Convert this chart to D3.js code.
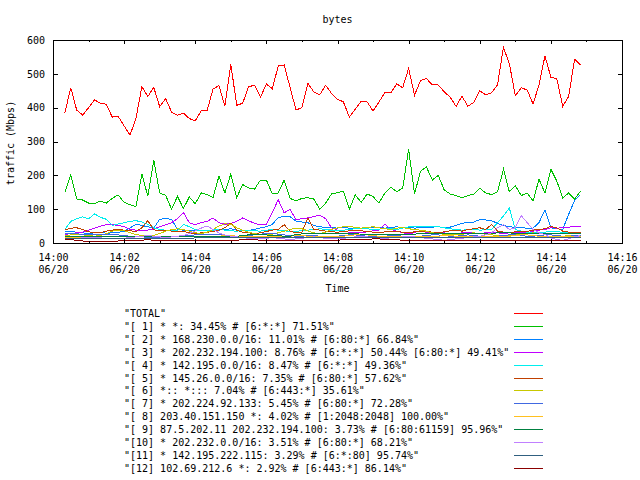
<!DOCTYPE html>
<html>
<head>
<meta charset="utf-8">
<script src="https://cdn.jsdelivr.net/npm/d3@7"></script>
<style>
    body { margin: 0; background: #fff; }
    text { font-family: "DejaVu Sans Mono", "Liberation Mono", monospace; font-size: 10px; fill: #000; }
    .axis path { display: none; }
    .axis line { stroke: #000; shape-rendering: crispEdges; }
    .series { fill: none; stroke-width: 1; shape-rendering: crispEdges; }
</style>
</head>
<body>
<div id="chart"></div>
<script>
// samples every 10 s, first one at 14:00:20
const startTime = [14, 0, 20];
const stepSeconds = 10;

const total = [385,459,393,378,400,423,413,410,372,374,
    346,319,369,462,433,460,403,427,387,378,
    384,368,361,391,391,455,465,405,528,407,
    413,462,466,431,470,456,523,526,460,393,
    400,472,447,438,466,442,425,417,372,396,
    419,417,390,417,445,444,470,459,516,437,
    480,486,467,467,447,431,404,434,404,416,
    450,438,444,468,578,530,435,459,452,411,
    467,553,490,486,404,433,543,526];

const s1 = [150,201,130,127,118,116,124,118,132,142,
    120,113,108,204,138,245,148,141,100,138,
    102,136,116,148,143,134,198,148,204,134,
    173,163,159,186,186,145,148,186,132,124,
    132,134,130,100,118,145,149,153,100,142,
    120,145,137,118,148,165,152,162,277,145,
    212,225,186,200,157,145,140,134,140,145,
    162,148,143,151,218,151,169,140,148,124,
    189,148,218,183,133,148,130,153];

const s2 = [33,34,32,30,28,30,31,29,30,32,
    34,45,55,52,48,44,70,72,70,40,
    38,37,38,36,36,37,38,40,42,38,
    36,37,40,45,48,55,75,79,78,65,
    62,60,52,48,46,45,44,46,44,42,
    44,46,45,47,44,46,48,45,46,44,
    45,46,47,48,46,47,52,58,62,62,
    69,68,66,58,52,48,46,45,44,44,
    60,98,45,42,40,85,125,143];

const s3 = [25,28,30,32,38,44,50,54,54,52,
    48,40,38,36,38,42,48,54,60,72,
    90,60,54,60,64,74,60,55,58,64,
    74,66,58,54,56,90,128,89,100,68,
    72,74,78,82,72,45,38,35,32,30,
    30,33,36,38,56,40,35,30,28,30,
    28,30,32,28,30,26,28,30,32,30,
    28,30,32,30,28,30,32,30,30,35,
    38,40,45,44,45,47,48,48];

const s4 = [40,64,72,77,71,86,76,70,52,56,
    60,64,66,62,55,45,40,38,37,36,
    55,48,39,37,36,38,40,38,36,35,
    37,38,36,35,38,40,38,36,34,35,
    36,38,40,42,40,38,36,38,40,42,
    44,42,40,41,43,42,40,44,48,50,
    50,49,49,48,45,42,40,38,39,40,
    38,39,40,60,80,103,40,35,32,30,
    30,32,34,33,32,30,32,30];

const s5 = [38,44,45,40,33,30,30,35,38,40,
    38,36,34,45,66,39,36,38,35,33,
    35,30,28,30,32,34,38,45,59,38,
    32,30,28,30,34,38,40,54,35,30,
    32,74,40,38,35,33,32,34,36,38,
    36,34,32,30,33,35,34,32,30,33,
    35,34,32,30,33,36,38,35,40,42,
    45,40,55,35,32,30,33,35,34,38,
    40,42,49,45,35,32,30,30];

const s6 = [22,24,25,24,22,20,22,28,35,38,
    36,30,25,22,20,22,28,35,40,42,
    40,35,30,28,32,40,50,57,55,45,
    38,32,28,25,24,26,30,35,40,44,
    42,36,30,28,32,40,45,48,50,46,
    44,46,48,45,42,40,44,46,42,40,
    38,35,30,28,26,25,24,26,28,30,
    28,26,24,22,20,22,24,26,28,30,
    28,26,24,22,20,22,20,18];

const s7 = [28,28,27,26,26,25,25,24,24,24,
    22,20,18,18,17,17,16,16,18,20,
    22,22,24,24,24,25,25,22,20,20,
    20,22,24,26,28,28,26,24,22,20,
    20,22,22,20,18,18,20,22,24,24,
    22,20,18,18,20,22,22,20,18,18,
    20,22,24,24,22,20,20,22,24,22,
    20,18,18,20,22,24,24,22,20,20,
    22,24,24,22,20,20,22,22];

const s8 = [15,15,16,16,17,18,18,18,18,18,
    18,18,18,19,19,19,19,18,18,18,
    18,18,18,17,17,18,20,22,22,20,
    18,18,18,18,18,18,18,18,20,22,
    22,20,18,18,18,18,18,20,22,24,
    26,24,22,20,18,18,18,18,18,18,
    18,18,18,20,22,22,20,18,18,18,
    18,18,18,18,18,20,22,24,24,22,
    20,20,18,18,18,18,18,18];

const s9 = [20,20,20,19,19,18,18,18,18,18,
    18,18,18,18,18,18,18,18,18,18,
    18,18,18,18,18,18,18,18,18,20,
    22,24,24,24,24,22,22,20,20,25,
    27,28,28,28,28,28,28,28,28,28,
    26,26,26,26,26,26,26,26,26,26,
    28,28,28,28,28,28,28,28,28,28,
    28,28,28,30,30,30,28,28,28,28,
    28,28,28,28,28,28,28,28];

const s10 = [10,12,14,15,16,16,15,14,12,12,
    14,16,18,20,22,20,18,16,18,20,
    22,28,36,44,50,40,30,24,20,18,
    16,14,12,12,14,16,14,12,10,12,
    14,16,18,16,14,12,12,14,16,18,
    20,18,16,15,14,15,16,18,20,18,
    16,14,12,10,8,10,12,14,16,18,
    20,24,30,45,54,40,45,81,60,40,
    30,25,15,10,8,12,18,22];

const s11 = [14,14,14,14,14,13,13,13,13,13,
    13,13,14,14,14,14,14,14,14,14,
    14,14,15,15,15,16,16,16,16,16,
    16,16,16,16,16,16,16,16,16,16,
    16,16,16,16,16,16,16,16,15,15,
    15,15,15,15,15,15,15,15,15,15,
    15,15,15,15,15,15,15,15,15,15,
    15,15,15,16,16,16,16,16,16,16,
    16,16,16,16,16,16,16,16];

const s12 = [12,10,8,6,5,5,5,5,5,6,
    6,6,6,8,10,8,6,6,6,6,
    8,8,8,6,6,6,6,6,6,8,
    10,10,10,8,8,8,8,8,6,6,
    6,6,8,8,8,8,8,10,10,10,
    10,10,12,12,10,10,10,8,8,8,
    8,8,8,8,8,8,8,6,6,6,
    6,6,6,6,6,6,6,6,8,8,
    8,8,8,8,8,8,8,6];

const labels = [
    '"TOTAL"',
    '"[ 1] * *: 34.45% # [6:*:*] 71.51%"',
    '"[ 2] * 168.230.0.0/16: 11.01% # [6:80:*] 66.84%"',
    '"[ 3] * 202.232.194.100: 8.76% # [6:*:*] 50.44% [6:80:*] 49.41%"',
    '"[ 4] * 142.195.0.0/16: 8.47% # [6:*:*] 49.36%"',
    '"[ 5] * 145.26.0.0/16: 7.35% # [6:80:*] 57.62%"',
    '"[ 6] *:: *::: 7.04% # [6:443:*] 35.61%"',
    '"[ 7] * 202.224.92.133: 5.45% # [6:80:*] 72.28%"',
    '"[ 8] 203.40.151.150 *: 4.02% # [1:2048:2048] 100.00%"',
    '"[ 9] 87.5.202.11 202.232.194.100: 3.73% # [6:80:61159] 95.96%"',
    '"[10] * 202.232.0.0/16: 3.51% # [6:80:*] 68.21%"',
    '"[11] * 142.195.222.115: 3.29% # [6:*:80] 95.74%"',
    '"[12] 102.69.212.6 *: 2.92% # [6:443:*] 86.14%"'
];
const colors = ["#ff0000", "#00c000", "#0080ff", "#c000ff", "#00eeee", "#c04000",
    "#c8c800", "#4169e1", "#ffc020", "#008040", "#c080ff", "#306080", "#8b0000"];
const yTicks = [0, 100, 200, 300, 400, 500, 600];

const seriesList = [total, s1, s2, s3, s4, s5, s6, s7, s8, s9, s10, s11, s12];

// time for each sample
const t0 = new Date(2011, 5, 20, startTime[0], startTime[1], startTime[2]);
const times = total.map((d, i) => new Date(t0.getTime() + i * stepSeconds * 1000));

const width = 640, height = 480;
const plot = { left: 53, right: 622, top: 40, bottom: 243 };

const svg = d3.select("#chart").append("svg")
    .attr("width", width)
    .attr("height", height);

const x = d3.scaleTime()
    .domain([new Date(2011, 5, 20, 14, 0, 0), new Date(2011, 5, 20, 14, 16, 0)])
    .range([plot.left, plot.right]);

const y = d3.scaleLinear()
    .domain([0, 600])
    .range([plot.bottom, plot.top]);

const fmtTime = d3.timeFormat("%H:%M");
const fmtDate = d3.timeFormat("%m/%d");
const majorTicks = d3.timeMinute.every(2).range(x.domain()[0], new Date(x.domain()[1].getTime() + 1));
const minorTicks = d3.timeMinute.every(1).range(x.domain()[0], x.domain()[1]).filter(d => d.getMinutes() % 2 == 1);

// series lines
const line = d3.line()
    .x((d, i) => x(times[i]))
    .y(d => y(d));

svg.selectAll(".series")
    .data(seriesList)
    .enter()
    .append("path")
    .attr("class", "series")
    .attr("stroke", (d, i) => colors[i])
    .attr("d", d => line(d));

// bottom axis with two line labels
svg.append("g")
    .attr("class", "axis")
    .attr("transform", "translate(0," + plot.bottom + ")")
    .call(d3.axisBottom(x).tickValues(majorTicks).tickSize(-4).tickSizeOuter(0).tickFormat(""))
    .call(g => g.selectAll(".tick text").each(function(d) {
        const t = d3.select(this).attr("dy", null).attr("y", 18);
        t.append("tspan").attr("x", 0).text(fmtTime(d));
        t.append("tspan").attr("x", 0).attr("dy", 12).text(fmtDate(d));
    }));

svg.append("g")
    .attr("class", "axis")
    .attr("transform", "translate(0," + plot.bottom + ")")
    .call(d3.axisBottom(x).tickValues(minorTicks).tickSize(-2).tickSizeOuter(0).tickFormat(""));

// top axis (mirror)
svg.append("g")
    .attr("class", "axis")
    .attr("transform", "translate(0," + plot.top + ")")
    .call(d3.axisTop(x).tickValues(majorTicks).tickSize(-4).tickSizeOuter(0).tickFormat(""));

svg.append("g")
    .attr("class", "axis")
    .attr("transform", "translate(0," + plot.top + ")")
    .call(d3.axisTop(x).tickValues(minorTicks).tickSize(-2).tickSizeOuter(0).tickFormat(""));

// y axes
svg.append("g")
    .attr("class", "axis")
    .attr("transform", "translate(" + plot.left + ",0)")
    .call(d3.axisLeft(y).tickValues(yTicks).tickSize(-5).tickSizeOuter(0).tickPadding(8));

svg.append("g")
    .attr("class", "axis")
    .attr("transform", "translate(" + plot.right + ",0)")
    .call(d3.axisRight(y).tickValues(yTicks).tickSize(-4).tickSizeOuter(0).tickFormat(""));

svg.selectAll(".axis").attr("font-family", null).attr("font-size", null);

// border
svg.append("rect")
    .attr("x", plot.left + 0.5)
    .attr("y", plot.top + 0.5)
    .attr("width", plot.right - plot.left)
    .attr("height", plot.bottom - plot.top)
    .attr("fill", "none")
    .attr("stroke", "#000")
    .attr("shape-rendering", "crispEdges");

// title and labels
svg.append("text")
    .attr("x", (plot.left + plot.right) / 2)
    .attr("y", 23)
    .attr("text-anchor", "middle")
    .text("bytes");

svg.append("text")
    .attr("x", (plot.left + plot.right) / 2)
    .attr("y", 292)
    .attr("text-anchor", "middle")
    .text("Time");

svg.append("text")
    .attr("transform", "translate(14," + 143 + ") rotate(-90)")
    .attr("text-anchor", "middle")
    .text("traffic (Mbps)");

// legend
const legend = svg.selectAll(".legend")
    .data(labels)
    .enter()
    .append("g")
    .attr("class", "legend")
    .attr("transform", (d, i) => "translate(0," + Math.round(313 + i * 12.9) + ")");

legend.append("text")
    .attr("x", 124)
    .attr("dy", "0.35em")
    .text(d => d);

legend.each(function(d, i) {
    d3.select(this).append("line")
        .attr("x1", 514)
        .attr("x2", 543)
        .attr("y1", 0.5)
        .attr("y2", 0.5)
        .attr("stroke", colors[i])
        .attr("shape-rendering", "crispEdges");
});
</script>
</body>
</html>
